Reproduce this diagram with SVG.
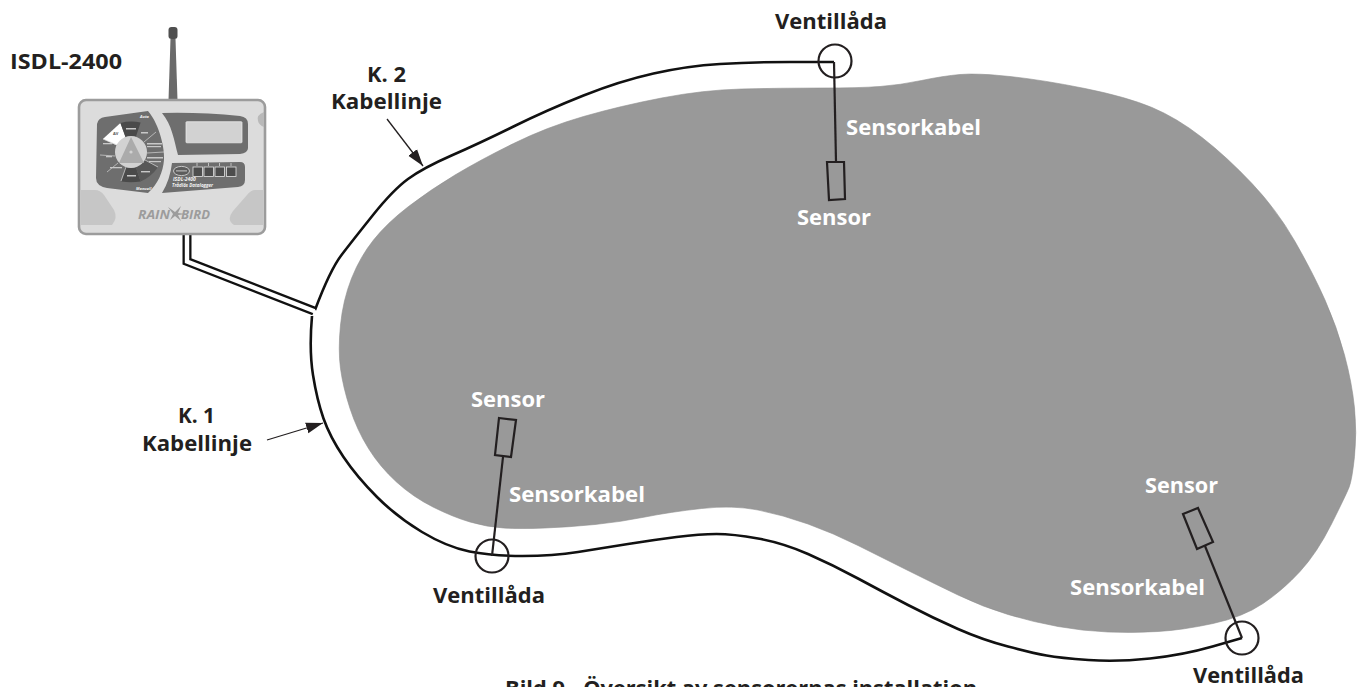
<svg xmlns="http://www.w3.org/2000/svg" width="1357" height="687" viewBox="0 0 1357 687">
  <style>
    text { font-family: "Open Sans", "Noto Sans", "Liberation Sans", sans-serif; font-weight: 700; font-size: 22px; }
    .dark { fill: #231f20; }
    .light { fill: #ffffff; }
    .ink { fill: none; stroke: #231f20; stroke-width: 2.2; }
    .cable { fill: none; stroke: #111111; stroke-width: 2.6; }
    .leader { fill: none; stroke: #231f20; stroke-width: 1.3; marker-end: url(#head); }
    .box { fill: none; stroke: #231f20; stroke-width: 2.2; }
    .panel { fill: #6e6e6e; }
    .spoke { stroke: #d4d4d4; stroke-width: 0.7; fill: none; }
    .key { fill: #4d4d4d; stroke: #e4e4e4; stroke-width: 0.8; }
    .tiny { font-size: 4px; fill: #f2f2f2; }
    .smudge { fill: #c8c8c8; }
  </style>
  <defs>
    <marker id="head" markerUnits="userSpaceOnUse" markerWidth="18" markerHeight="12" refX="17" refY="6" orient="auto">
      <path d="M0,0.5 L17,6 L0,11.5 Z" fill="#231f20"/>
    </marker>
  </defs>
  <rect width="1357" height="687" fill="#ffffff"/>

  <!-- Planted area -->
  <path id="area" fill="#999999" stroke="#8f8f8f" stroke-width="0.6" d="M583.5,116.5 Q620,106 661.5,98 Q703,90 741.5,89 Q780,88 820,88 Q860,88 880,86.5 Q900,85 921.5,80.5 Q943,76 960,74.5 Q977,73 1010,76.5 Q1043,80 1085,88.5 Q1127,97 1152,107.5 Q1177,118 1202,137.5 Q1227,157 1252,183.5 Q1277,210 1295,241.5 Q1313,273 1325,300 Q1337,327 1344.5,355 Q1352,383 1354.5,408 Q1357,433 1354.5,456.5 Q1352,480 1349,487.5 Q1346,495 1331.5,524 Q1317,553 1300,571.5 Q1283,590 1263,603.5 Q1243,617 1213,623.5 Q1183,630 1158,631.5 Q1133,633 1108,632 Q1083,631 1058,626.5 Q1033,622 1008,614.5 Q983,607 958,595 Q933,583 908,570.5 Q883,558 858,545.5 Q833,533 808,524 Q783,515 758,510 Q733,505 701.5,508.5 Q670,512 645,517 Q620,522 595,524.5 Q570,527 545,528 Q520,529 503.5,528 Q487,527 470,522 Q453,517 433,507 Q413,497 396.5,482 Q380,467 368.5,448.5 Q357,430 350,408.5 Q343,387 340.5,368.5 Q338,350 340.5,325 Q343,300 351.5,278.5 Q360,257 373.5,240 Q387,223 408.5,206.5 Q430,190 455,175 Q480,160 513.5,143.5 Q547,127 583.5,116.5 Z"/>

  <!-- Connectors -->
  <g id="connectors">
    <path id="cable-2" class="cable" d="M315,310 Q330,270 341.5,255 Q353,240 373,215 Q393,190 408,179 Q423,168 451.5,155.5 Q480,143 513.5,126.5 Q547,110 583.5,95.5 Q620,81 653.5,73.5 Q687,66 720,64 Q753,62 790,62 L834,62"/>
    <path id="cable-1" class="cable" d="M312,316 Q309,350 313,375 Q317,400 323.5,418.5 Q330,437 343.5,457 Q357,477 377,497 Q397,517 422,532 Q447,547 469.5,551.5 Q492,556 522.5,556 Q553,556 578,552 Q603,548 628,544 Q653,540 676.5,537 Q700,534 716.5,534 Q733,534 758,538.5 Q783,543 808,554 Q833,565 858,578.5 Q883,592 908,605 Q933,618 958,629 Q983,640 1008,646.5 Q1033,653 1046.5,655.5 Q1060,658 1088.5,660 Q1117,662 1150,658.5 Q1183,655 1212.5,646.5 L1242,638"/>
    <path id="trunk-outer" fill="none" stroke="#111111" stroke-width="9" stroke-linejoin="miter" d="M187,235 L187,261.5 L314,311"/>
    <path id="trunk-inner" fill="none" stroke="#ffffff" stroke-width="4.4" stroke-linejoin="miter" d="M187,234 L187,261.5 L314.5,311.2"/>
    <line class="ink" x1="834" y1="62" x2="836" y2="162"/>
    <line class="ink" x1="503" y1="457" x2="492" y2="556"/>
    <line class="ink" x1="1205" y1="546" x2="1242" y2="638"/>
    <line class="leader" x1="387" y1="119" x2="423" y2="166"/>
    <line class="leader" x1="267" y1="440" x2="323" y2="423"/>
  </g>

  <!-- Valve boxes -->
  <g id="valve-top"><circle class="ink" cx="835" cy="61" r="16.5"/><text class="dark" x="775" y="29" textLength="112" lengthAdjust="spacingAndGlyphs">Ventillåda</text></g>
  <g id="valve-left"><circle class="ink" cx="492" cy="556" r="16.5"/><text class="dark" x="433" y="603" textLength="112" lengthAdjust="spacingAndGlyphs">Ventillåda</text></g>
  <g id="valve-right"><circle class="ink" cx="1242" cy="638" r="16.5"/><text class="dark" x="1193" y="683" textLength="111" lengthAdjust="spacingAndGlyphs">Ventillåda</text></g>

  <!-- Sensors -->
  <g id="sensor-top"><polygon class="box" points="827,162 844,162 845,199 829,200"/><text class="light" x="797" y="225" textLength="74" lengthAdjust="spacingAndGlyphs">Sensor</text></g>
  <g id="sensor-left"><polygon class="box" points="499,418 516,420 511,457 495,455"/><text class="light" x="471" y="407" textLength="74" lengthAdjust="spacingAndGlyphs">Sensor</text></g>
  <g id="sensor-right"><polygon class="box" points="1183,514 1198,508 1213,542 1197,549"/><text class="light" x="1145" y="493" textLength="73" lengthAdjust="spacingAndGlyphs">Sensor</text></g>

  <!-- Cable labels -->
  <g id="labels">
    <text class="light" x="846" y="135" textLength="135" lengthAdjust="spacingAndGlyphs">Sensorkabel</text>
    <text class="light" x="509" y="502" textLength="136" lengthAdjust="spacingAndGlyphs">Sensorkabel</text>
    <text class="light" x="1070" y="595" textLength="135" lengthAdjust="spacingAndGlyphs">Sensorkabel</text>
    <text class="dark" x="367" y="82" textLength="39" lengthAdjust="spacingAndGlyphs">K. 2</text>
    <text class="dark" x="331" y="109" textLength="111" lengthAdjust="spacingAndGlyphs">Kabellinje</text>
    <text class="dark" x="178" y="423" textLength="37" lengthAdjust="spacingAndGlyphs">K. 1</text>
    <text class="dark" x="142" y="451" textLength="110" lengthAdjust="spacingAndGlyphs">Kabellinje</text>
    <text class="dark" x="505" y="696" textLength="472" lengthAdjust="spacingAndGlyphs">Bild 9 - Översikt av sensorernas installation</text>
  </g>

  <!-- Data logger with antenna -->
  <g id="isdl-2400">
    <text class="dark" x="10" y="69" textLength="112" lengthAdjust="spacingAndGlyphs">ISDL-2400</text>
    <polygon points="170.5,39 175.5,39 177.5,100 168.5,100" fill="#6a6a6a"/>
    <rect x="168.5" y="27" width="9" height="12" rx="3" fill="#4f4f4f"/>
    <rect x="79" y="100" width="186" height="134" rx="7" fill="#dcdcdc" stroke="#9c9c9c" stroke-width="2.6"/>
    <path d="M81,190 L95,190 Q100,190 104,195 L114,210 Q118,218 112,225 L81,225 Z" fill="#c6c6c6"/>
    <path d="M263,190 L255,190 Q251,190 247,195 L233,211 Q226,220 234,225 L263,225 Z" fill="#c6c6c6"/>
    <path d="M264,112 Q256,115 258,121 Q259,125 264,127 Z" fill="#b9b9b9"/>

    <path class="panel" d="M97,124 Q98,118 105,117 L148,111 C160,125 165,150 164,160 C163,172 158,184 148,193 L107,188 Q96,186 96,178 Z"/>
    <path class="panel" d="M162,113 Q200,112 240,116 Q248,117 248,124 L248,148 Q248,153 240,154 L178,155 C174,140 172,125 162,113 Z"/>
    <path class="panel" d="M172,163 L240,162 Q245,162 245,167 L245,180 Q245,186 238,187 L162,193 Q170,180 172,163 Z"/>

    <path d="M102.9,138.9 L120.4,122.9 L125.5,137 L116.5,145.2 Z" fill="#ffffff"/>
    <path d="M120.4,122.9 Q130.5,120.5 140.6,122.5 L135.9,136.8 Q130.5,135.5 125.5,137 Z" fill="#4a4a4a"/>
    <path d="M121.4,181.5 Q131,183 140.6,181.5 L135.9,167.2 Q131,168.5 126.1,167.2 Z" fill="#4a4a4a"/>
    <path d="M140.6,181.5 Q151,177 157.8,167.5 L144.9,160 Q141,165 135.9,167.2 Z" fill="#575757"/>
    <g class="spoke">
      <line x1="144" y1="142" x2="156" y2="132"/>
      <line x1="147" y1="153" x2="164" y2="152"/>
      <line x1="145" y1="160" x2="158" y2="167"/>
      <line x1="117" y1="145" x2="103" y2="139"/>
      <line x1="115" y1="156" x2="100" y2="155"/>
      <line x1="118" y1="163" x2="107" y2="172"/>
      <line x1="126" y1="167" x2="121" y2="181"/>
    </g>
    <circle cx="131" cy="152" r="16" fill="#d2d2d2"/>
    <polygon points="131,137 119,163 144,163" fill="#ababab"/>
    <circle cx="131" cy="152" r="1.6" fill="#d2d2d2"/>

    <rect class="smudge" x="126" y="128" width="10" height="1.5"/>
    <rect class="smudge" x="141" y="132" width="7" height="1.5"/>
    <rect class="smudge" x="147" y="143" width="15" height="1.5"/>
    <rect class="smudge" x="147" y="146" width="14" height="1.2"/>
    <rect class="smudge" x="147" y="157" width="16" height="1.5"/>
    <rect class="smudge" x="149" y="161" width="12" height="1.2"/>
    <rect class="smudge" x="141" y="171" width="9" height="1.4"/>
    <rect class="smudge" x="127" y="175" width="9" height="1.5"/>
    <rect class="smudge" x="110" y="167" width="12" height="1.3"/>
    <rect class="smudge" x="106" y="156" width="6" height="1.3"/>
    <rect class="smudge" x="103" y="143" width="9" height="1.3"/>

    <text class="tiny" x="113" y="135" fill="#555555" style="fill:#555555">AV</text>
    <text class="tiny" x="140" y="118" font-style="italic" style="font-style:italic">Auto</text>
    <text class="tiny" x="136" y="190" font-style="italic" style="font-style:italic">Manuell</text>

    <rect x="186" y="122" width="56" height="31" rx="1" fill="#d2d2d2" stroke="#ededed" stroke-width="0.9" transform="translate(0,0) scale(1,0.68) translate(0,57)"/>

    <ellipse cx="181.5" cy="171" rx="8" ry="4.6" fill="#5c5c5c" stroke="#dddddd" stroke-width="0.8"/>
    <rect class="smudge" x="176" y="170.4" width="11" height="1"/>
    <rect class="key" x="193" y="167" width="9.5" height="9.5"/>
    <rect class="key" x="204" y="167" width="9.5" height="9.5"/>
    <rect class="key" x="215" y="167" width="9.5" height="9.5"/>
    <rect class="key" x="226.5" y="167" width="9.5" height="9.5"/>
    <path d="M197,163 v3 M208.5,163 v3 M219.5,163 v3 M231,163 v3" stroke="#e4e4e4" stroke-width="0.7"/>
    <text class="tiny" x="173" y="181" style="font-size:5px;font-style:italic">ISDL-2400</text>
    <text class="tiny" x="172" y="186.5" style="font-size:4.6px;font-style:italic" textLength="41">Trådlös Datalogger</text>

    <text x="138" y="218.5" style="font-size:12px;font-style:italic;fill:#9c9c9c" textLength="32" lengthAdjust="spacingAndGlyphs">RAIN</text>
    <path d="M168,207 L175,212 L181,206 L178,213 L186,214 L178,215 L181,221 L175,216 L170,220 L173,214 Z" fill="#9c9c9c"/>
    <text x="181" y="218.5" style="font-size:12px;font-style:italic;fill:#9c9c9c" textLength="29" lengthAdjust="spacingAndGlyphs">BIRD</text>
  </g>
</svg>
